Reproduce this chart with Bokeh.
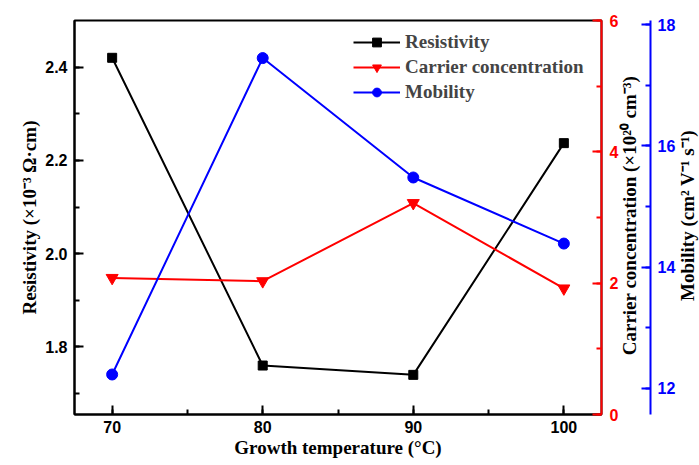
import math
from bokeh.plotting import figure
from bokeh.models import (LinearAxis, Range1d, SingleIntervalTicker, Label,
                          Legend, LegendItem, PrintfTickFormatter)
from bokeh.embed import file_html
from bokeh.resources import INLINE

# ---- data ----
temperature = [70, 80, 90, 100]
resistivity = [2.42, 1.76, 1.74, 2.237]
carrier = [2.08, 2.03, 3.22, 1.92]
mobility = [12.23, 17.45, 15.48, 14.39]

x_label = "Growth temperature (°C)"
left_label = "Resistivity (×10⁻³ Ω·cm)"
red_label = "Carrier concentration (×10²⁰ cm⁻³)"
blue_label = "Mobility (cm² V⁻¹ s⁻¹)"
series_names = ["Resistivity", "Carrier concentration", "Mobility"]

TICK_FONT = "Liberation Sans"
LABEL_FONT = "Liberation Serif"
RED = "#ff0000"
BLUE = "#0000ff"

FW, FH = 527, 394
p = figure(frame_width=FW, frame_height=FH, x_range=Range1d(67.5, 102.5),
           y_range=Range1d(1.655, 2.5), output_backend="svg",
           toolbar_location=None, min_border_left=74, min_border_top=20,
           min_border_right=90, min_border_bottom=49)
p.extra_y_ranges = {"carrier": Range1d(0, 6), "mobility": Range1d(11.57, 18.07)}
p.xgrid.visible = False
p.ygrid.visible = False
p.outline_line_color = "black"
p.outline_line_width = 2
p.background_fill_color = "white"


def style_axis(ax, color):
    ax.axis_line_color = color
    ax.axis_line_width = 2
    ax.major_tick_line_color = color
    ax.minor_tick_line_color = color
    ax.major_tick_line_width = 2
    ax.minor_tick_line_width = 2
    ax.major_tick_in = 9
    ax.major_tick_out = 0
    ax.minor_tick_in = 5
    ax.minor_tick_out = 0
    ax.major_label_text_font = TICK_FONT
    ax.major_label_text_font_style = "bold"
    ax.major_label_text_font_size = "16px"
    ax.major_label_text_color = color
    ax.axis_label_text_font = LABEL_FONT
    ax.axis_label_text_font_style = "bold"
    ax.axis_label_text_font_size = "19px"
    ax.axis_label_text_color = "black"


def side_title(txt, x, pad):
    # rotated title living in the right-hand panel, reading bottom-to-top
    return Label(x=x, y=FH / 2 + 2, x_units="screen", y_units="screen",
                 text=txt, angle=math.pi / 2, text_align="center",
                 text_baseline="middle", text_font=LABEL_FONT,
                 text_font_style="bold", text_font_size="19px",
                 text_color="black", padding=pad)


xa = p.xaxis[0]
style_axis(xa, "black")
xa.ticker = SingleIntervalTicker(interval=10, num_minor_ticks=2)
xa.axis_label = x_label
xa.major_label_standoff = 6
xa.axis_label_standoff = 1

ya = p.yaxis[0]
style_axis(ya, "black")
ya.ticker = SingleIntervalTicker(interval=0.2, num_minor_ticks=2)
ya.formatter = PrintfTickFormatter(format="%.1f")
ya.axis_label = left_label
ya.major_label_standoff = 7
ya.axis_label_standoff = 2

red_axis = LinearAxis(y_range_name="carrier",
                      ticker=SingleIntervalTicker(interval=2, num_minor_ticks=2))
style_axis(red_axis, RED)
red_axis.major_label_standoff = 8
p.add_layout(red_axis, "right")
p.add_layout(side_title(red_label, 8, 4), "right")

blue_axis = LinearAxis(y_range_name="mobility",
                       ticker=SingleIntervalTicker(interval=2, num_minor_ticks=2))
style_axis(blue_axis, BLUE)
blue_axis.major_label_standoff = 7
p.add_layout(blue_axis, "right")
p.add_layout(side_title(blue_label, 9, 0), "right")

# ---- series ----
l1 = p.line(temperature, resistivity, line_color="black", line_width=2)
m1 = p.scatter(temperature, resistivity, marker="square", size=9,
               fill_color="black", line_color="black")
l2 = p.line(temperature, carrier, line_color=RED, line_width=2,
            y_range_name="carrier")
m2 = p.scatter(temperature, carrier, marker="inverted_triangle", size=12,
               fill_color=RED, line_color=RED, y_range_name="carrier")
l3 = p.line(temperature, mobility, line_color=BLUE, line_width=2,
            y_range_name="mobility")
m3 = p.scatter(temperature, mobility, marker="circle", size=11,
               fill_color=BLUE, line_color=BLUE, y_range_name="mobility")

legend = Legend(items=[
    LegendItem(label=series_names[0], renderers=[l1, m1]),
    LegendItem(label=series_names[1], renderers=[l2, m2]),
    LegendItem(label=series_names[2], renderers=[l3, m3]),
], location=(279, 311))
legend.margin = 0
legend.padding = 0
legend.spacing = 3
legend.glyph_width = 47
legend.glyph_height = 22
legend.label_height = 22
legend.label_standoff = 5
legend.border_line_color = None
legend.background_fill_alpha = 0
legend.label_text_font = LABEL_FONT
legend.label_text_font_style = "bold"
legend.label_text_font_size = "19px"
p.add_layout(legend)

open("out.html", "w").write(file_html(p, INLINE))
